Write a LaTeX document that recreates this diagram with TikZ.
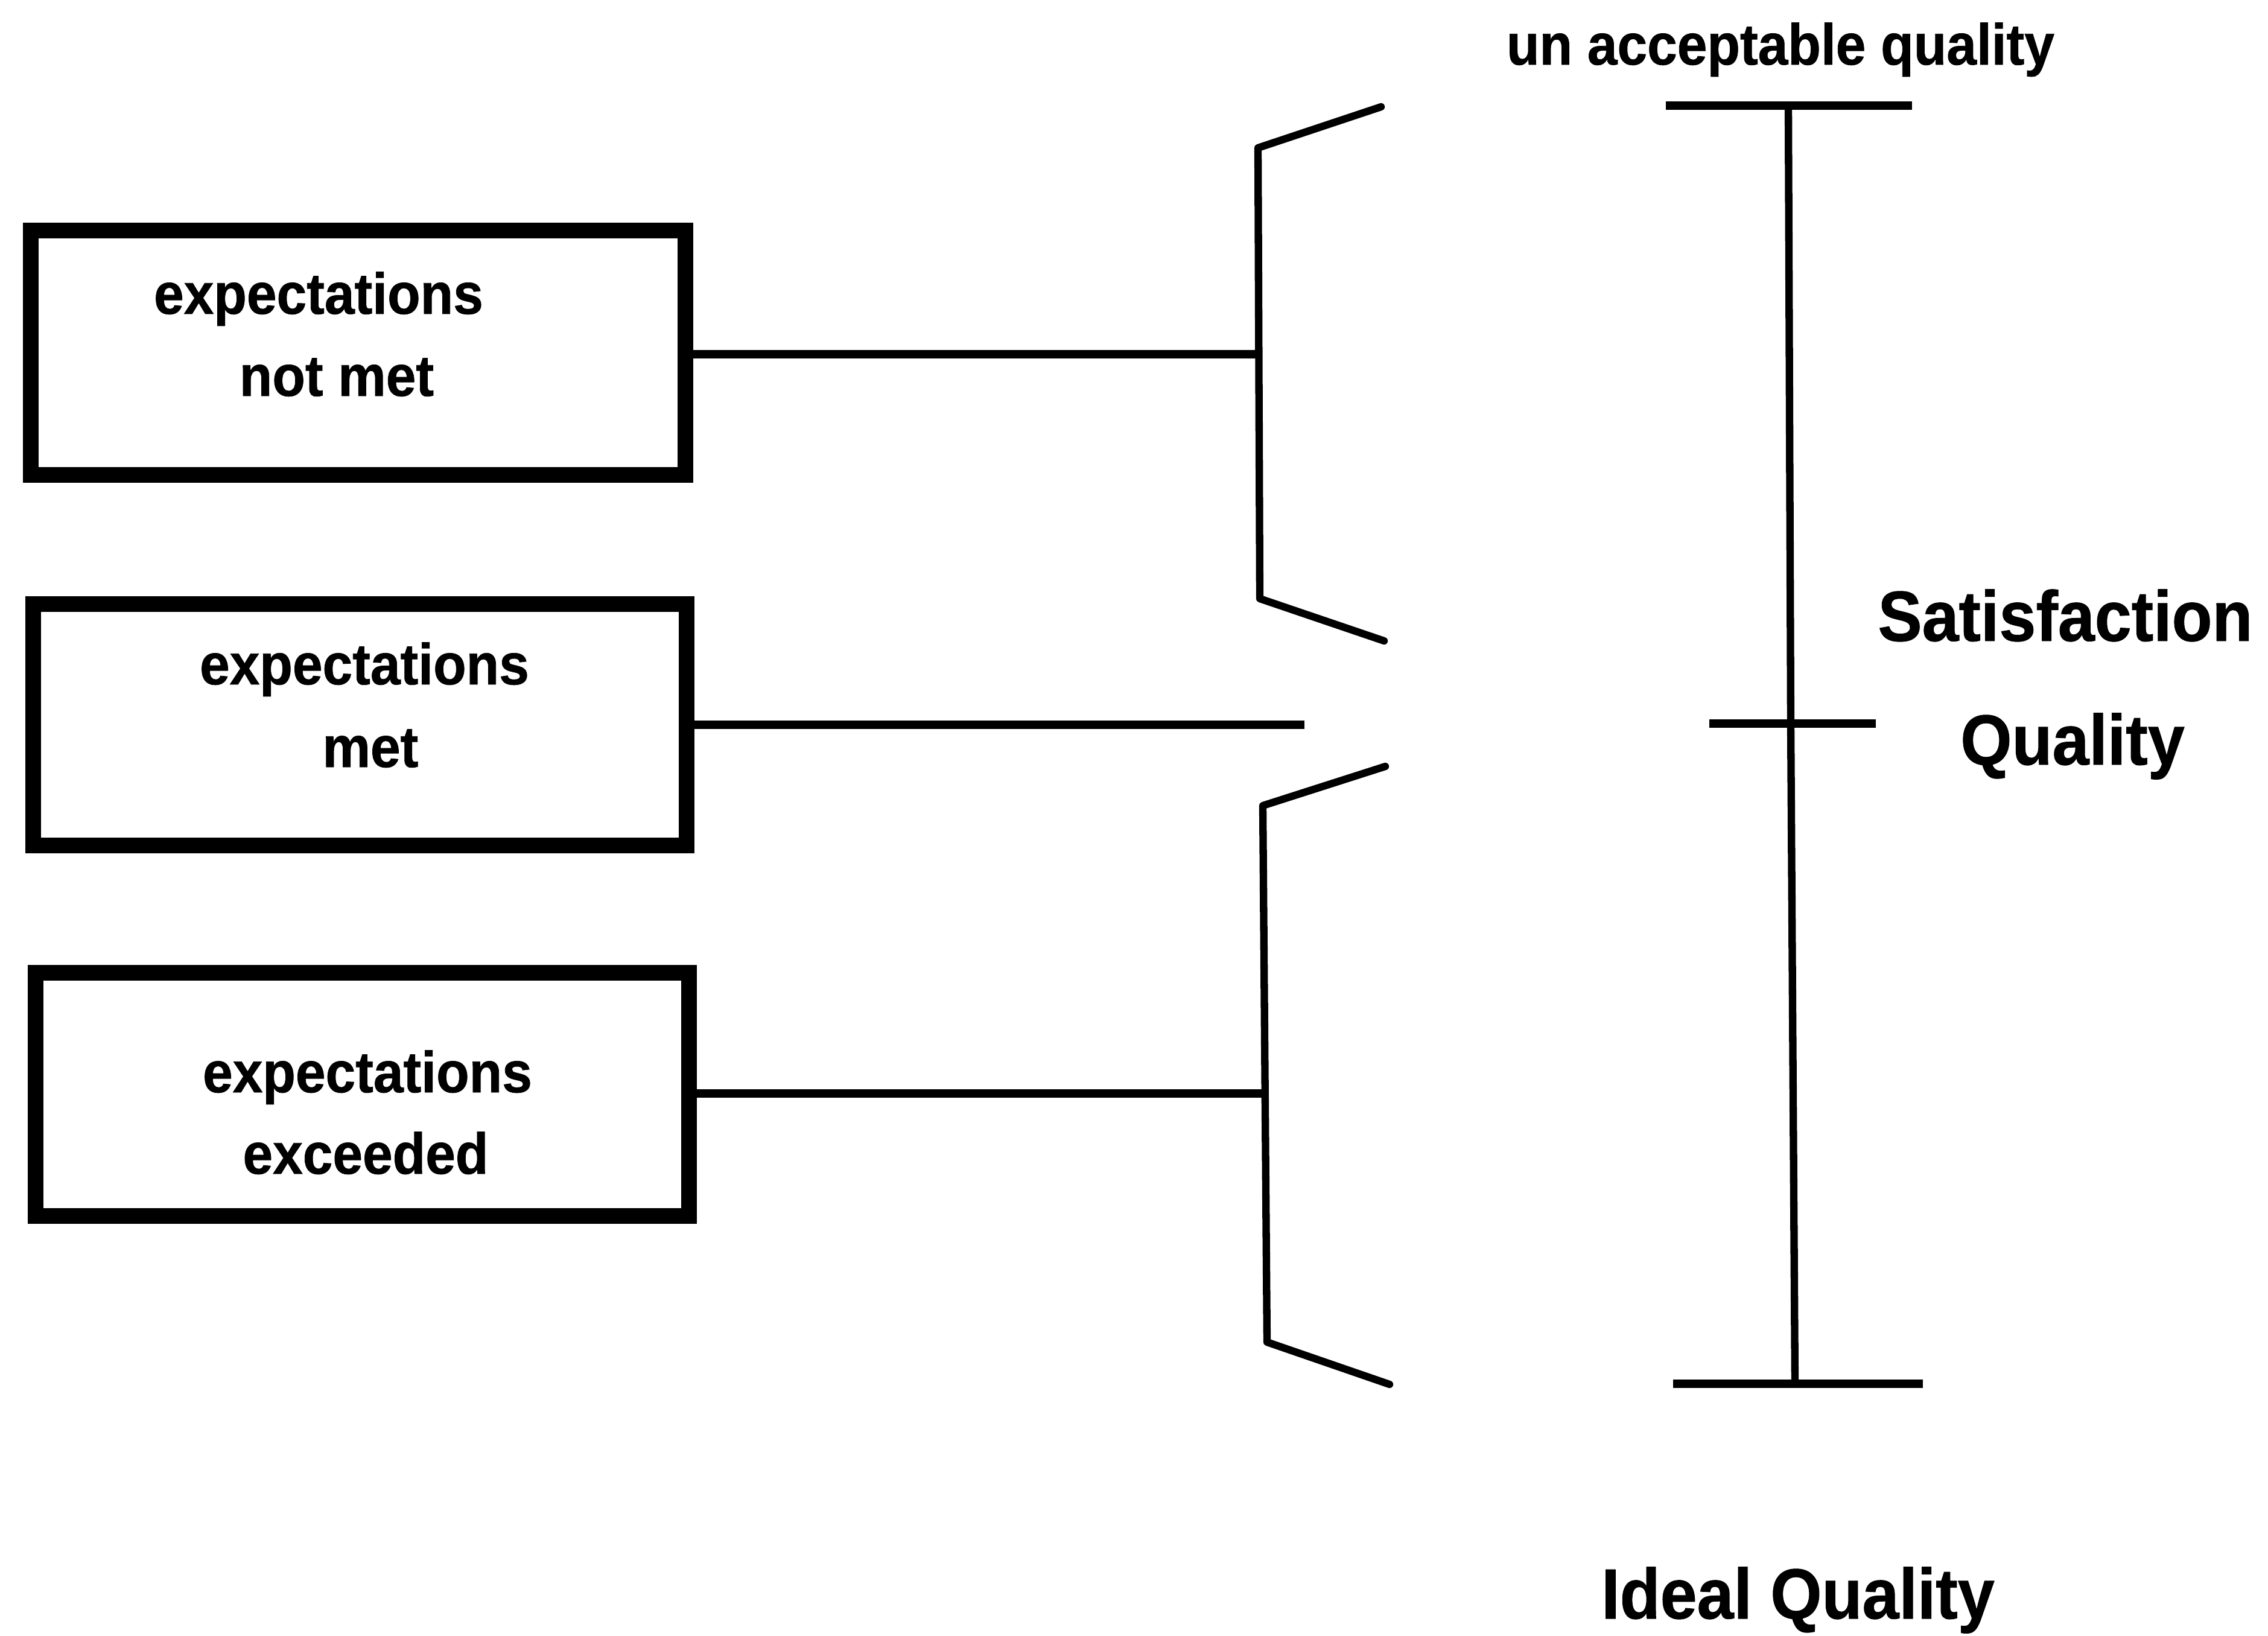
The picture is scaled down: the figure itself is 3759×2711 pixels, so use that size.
\documentclass[tikz,border=0pt]{standalone}
\usepackage{fontspec}
\newfontfamily\lbl{Liberation Sans}[FakeStretch=0.93,FakeBold=0.8]
\begin{document}
\begin{tikzpicture}[x=0.01cm,y=-0.01cm,
  box/.style={draw, line width=7.4pt, rectangle, inner sep=0pt, outer sep=0pt},
  boxtext/.style={anchor=base, inner sep=0pt, font=\lbl\bfseries\fontsize{27.3}{30}\selectfont},
  bigtext/.style={anchor=base, inner sep=0pt, font=\lbl\bfseries\fontsize{33.5}{36}\selectfont},
  link/.style={line width=3.8pt},
  bracketline/.style={line width=3.5pt, line join=round, line cap=round},
  scaleline/.style={line width=3.5pt},
  tick/.style={line width=3.9pt}]
\useasboundingbox (0,0) rectangle (3759,2711);

% three outcome boxes (path coordinates, border centred on them)
\node[box, minimum width=10.85cm, minimum height=4.05cm] (b1) at (593.5,584.5) {};
\node[box, minimum width=10.83cm, minimum height=4.00cm] (b2) at (596.5,1201) {};
\node[box, minimum width=10.83cm, minimum height=4.03cm] (b3) at (600.5,1813.5) {};

\node[boxtext] (t1a) at (528,520) {expectations};
\node[boxtext] (t1b) at (558,656) {not met};
\node[boxtext] (t2a) at (604,1134) {expectations};
\node[boxtext] (t2b) at (614,1271) {met};
\node[boxtext] (t3a) at (609,1810) {expectations};
\node[boxtext] (t3b) at (606,1945) {exceeded};

% upper bracket
\coordinate (u1) at (2289,177);
\coordinate (u2) at (2085,245);
\coordinate (u3) at (2088,992);
\coordinate (u4) at (2294,1062);
\coordinate (uj) at (2086,587);
\draw[bracketline] (u1) -- (u2) -- (u3) -- (u4);

% lower bracket
\coordinate (l1) at (2296,1270);
\coordinate (l2) at (2093,1335);
\coordinate (l3) at (2100,2224);
\coordinate (l4) at (2303,2294);
\coordinate (lj) at (2097,1812);
\draw[bracketline] (l1) -- (l2) -- (l3) -- (l4);

% connectors from the boxes
\coordinate (mj) at (2162,1201);
\draw[link] (b1.east |- uj) -- (uj);
\draw[link] (b2.east) -- (mj);
\draw[link] (b3.east |- lj) -- (lj);

% quality scale
\coordinate (stop) at (2964,175);
\coordinate (smid) at (2968,1199);
\coordinate (sbot) at (2975,2293);
\draw[scaleline] (stop) -- (smid) -- (sbot);
\draw[tick] (2761,175) -- (3169,175);
\draw[tick] (2833,1199) -- (3109,1199);
\draw[tick] (2773,2293) -- (3187,2293);

\node[boxtext] (lowq) at (2951,107) {un acceptable quality};
\node[bigtext] (sat) at (3423,1062) {Satisfaction};
\node[bigtext] (qual) at (3435,1267) {Quality};
\node[bigtext] (ideal) at (2980,2682) {Ideal Quality};
\end{tikzpicture}
\end{document}
